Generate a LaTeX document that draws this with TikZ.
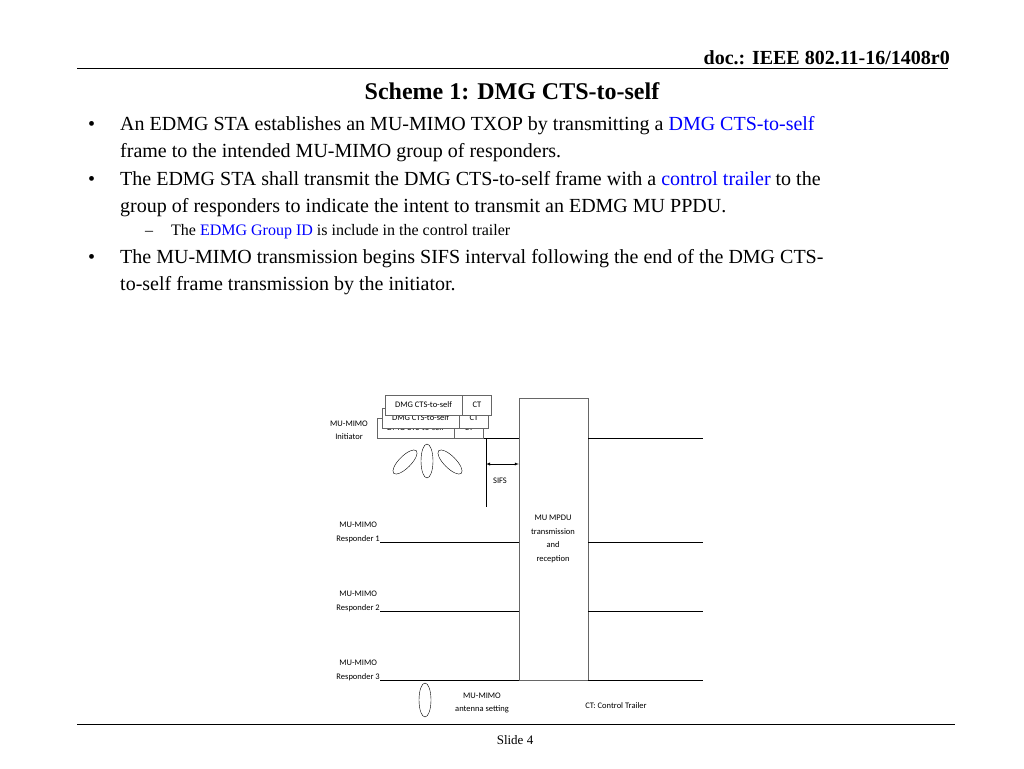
\documentclass[tikz,border=0pt]{standalone}
\usepackage{fontspec}
\setmainfont{Liberation Serif}
\newfontfamily\calib{Carlito}
\begin{document}
\begin{tikzpicture}[x=1pt,y=-1pt,
  body/.style={anchor=base west,inner sep=0pt,font=\fontsize{20}{24}\selectfont},
  lab/.style={align=center,inner sep=0pt,font=\calib\fontsize{8.5}{13.5}\selectfont},
  frame/.style={draw=black!60,fill=white,inner sep=0pt,minimum height=20,font=\calib\fontsize{8.5}{10}\selectfont},
  hi/.style={text=blue}]
\useasboundingbox (0,0) rectangle (1024,768);
% header
\draw (77,68) -- (948,68);
\node[anchor=base east,inner sep=0pt,font=\bfseries\fontsize{20}{24}\selectfont] (doc) at (950,64) {doc.: IEEE 802.11-16/1408r0};
\node[anchor=base,inner sep=0pt,font=\bfseries\fontsize{24}{28}\selectfont] (title) at (512,99) {Scheme 1: DMG CTS-to-self};
% bullets
\foreach \y in {130,185,263}{
\node[body] at (88,\y) {\textbullet};
}
\node[body] (l1) at (120,130) {An EDMG STA establishes an MU-MIMO TXOP by transmitting a \textcolor{blue}{DMG CTS-to-self}};
\node[body] (l2) at (120,157) {frame to the intended MU-MIMO group of responders.};
\node[body] (l3) at (120,185) {The EDMG STA shall transmit the DMG CTS-to-self frame with a \textcolor{blue}{control trailer} to the};
\node[body] (l4) at (120,212) {group of responders to indicate the intent to transmit an EDMG MU PPDU.};
\node[body,font=\fontsize{16}{18}\selectfont] at (145,235) {--};
\node[body,font=\fontsize{16}{18}\selectfont] (l5) at (171,235) {The \textcolor{blue}{EDMG Group ID} is include in the control trailer};
\node[body] (l6) at (120,263) {The MU-MIMO transmission begins SIFS interval following the end of the DMG CTS-};
\node[body] (l7) at (120,290) {to-self frame transmission by the initiator.};
% diagram
\node[draw=black!60,minimum width=69,minimum height=282,inner sep=0pt] (box) at (553.5,539) {};
\node[lab] (boxt) at (553,539) {MU MPDU\\transmission\\and\\reception};
\path (boxt.north) ++(0,0) coordinate (dummy);
\foreach \y/\n in {438/i,542/a,611/b,680/c}{
\coordinate (\n w) at (380,\y);
\coordinate (\n e) at (703,\y);
\draw (\n w) -- (box.west |- \n w);
\draw (box.east |- \n e) -- (\n e);
}
\node[lab,anchor=south] (ini) at (349,440) {MU-MIMO\\Initiator};
\node[lab,anchor=south east] (r1) at (380,543) {MU-MIMO\\Responder 1};
\node[lab,anchor=south east] (r2) at (380,612) {MU-MIMO\\Responder 2};
\node[lab,anchor=south east] (r3) at (380,681) {MU-MIMO\\Responder 3};
% CTS-to-self frames
\foreach \x/\y/\n in {377/428/c,382/418/b,385/405/a}{
\node[frame,minimum width=77] (d\n) at (\x+38.5,\y) {DMG CTS-to-self};
\node[frame,minimum width=29,anchor=west] (ct\n) at (d\n.east) {CT};
}
% SIFS
\coordinate (s0) at (486,438);
\coordinate (s1) at (486,507);
\draw (s0) -- (s1);
\coordinate (sa) at (486,464);
\draw[<->,>=latex] (sa) -- (box.west |- sa);
\node[lab] (sifs) at (500,481) {SIFS};
% antenna patterns
\draw[rotate around={45:(405,462)}] (405,462) ellipse (16 and 6);
\draw (427,461) ellipse (6 and 17);
\draw[rotate around={-45:(450,462)}] (450,462) ellipse (16 and 6);
% legend
\draw (425,700) ellipse (6 and 17);
\node[lab] (ant) at (482,703) {MU-MIMO\\antenna setting};
\node[lab] (ctl) at (616,706) {CT: Control Trailer};
% footer
\draw (77,724) -- (955,724);
\node[anchor=base,inner sep=0pt,font=\fontsize{13}{15}\selectfont] (slide) at (515,744) {Slide 4};
\end{tikzpicture}
\end{document}
